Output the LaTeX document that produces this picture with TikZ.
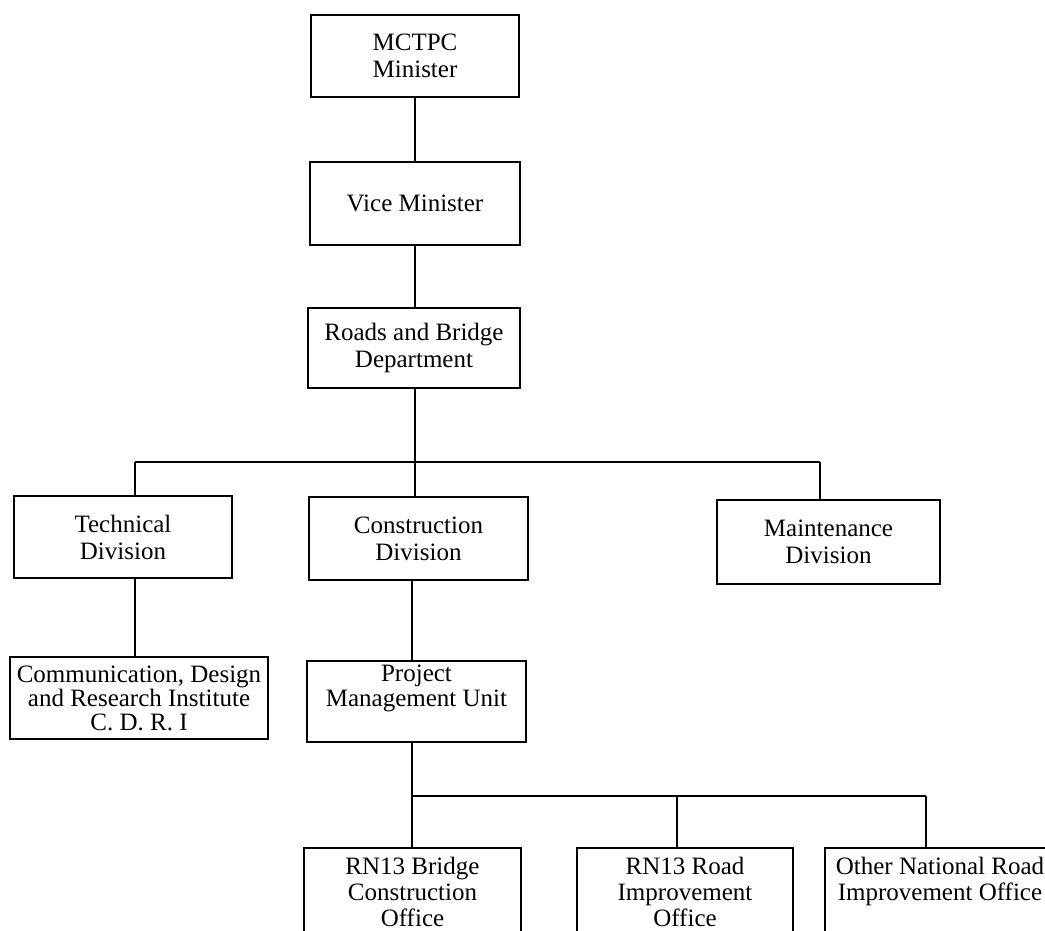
\documentclass[tikz,border=0pt]{standalone}
\usepackage{fontspec}
\setmainfont{Liberation Serif}
\begin{document}
\begin{tikzpicture}[x=1pt,y=-1pt,
  box/.style={draw, line width=1.6pt, inner sep=0pt, align=center,
    font=\fontsize{25}{27}\selectfont},
  office/.style={box, minimum height=88pt, text depth=0pt, font=\fontsize{25}{26}\selectfont},
  conn/.style={line width=1.6pt}]
\useasboundingbox (0,0) rectangle (1045,930);
% top chain
\node[box, minimum width=208pt, minimum height=82pt] (m) at (415,56) {MCTPC\\Minister};
\node[box, minimum width=210pt, minimum height=83pt] (v) at (415,203.5) {Vice Minister};
\node[box, minimum width=212pt, minimum height=80pt] (r) at (414,348) {Roads and Bridge\\Department};
% divisions
\node[box, minimum width=218pt, minimum height=82pt] (t) at (123,537) {Technical\\Division};
\node[box, minimum width=219pt, minimum height=83pt] (c) at (418.5,538.5) {Construction\\Division};
\node[box, minimum width=223pt, minimum height=84pt] (mt) at (828.5,542) {Maintenance\\Division};
% second level
\node[box, minimum width=258pt, minimum height=82pt, font=\fontsize{25}{24}\selectfont] (cd) at (139,698) {Communication, Design\\and Research Institute\\C. D. R. I};
\node[box, minimum width=219pt, minimum height=81pt, font=\fontsize{25}{25}\selectfont] (p) at (416.5,701.5) {Project\\Management Unit\\\strut};
% offices
\node[office, minimum width=217pt] (b1) at (412.5,892) {RN13 Bridge\\Construction\\Office};
\node[office, minimum width=216pt] (b2) at (685,892) {RN13 Road\\Improvement\\Office};
\node[office, minimum width=230pt] (b3) at (940,892) {Other National Road\\Improvement Office\\\phantom{Office}};
% junction points
\coordinate (j1) at (415,462);
\coordinate (jl) at (135,462);
\coordinate (jr) at (820,462);
\coordinate (j2) at (412,796);
\coordinate (j2m) at (677,796);
\coordinate (j2r) at (926,796);
% connectors
\draw[conn] (m.south) -- (v.north);
\draw[conn] (v.south) -- (v.south |- r.north);
\draw[conn] (j1 |- r.south) -- (j1 |- c.north);
\draw[conn] (jl) -- (jr);
\draw[conn] (jl) -- (jl |- t.north);
\draw[conn] (jr) -- (jr |- mt.north);
\draw[conn] (jl |- t.south) -- (jl |- cd.north);
\draw[conn] (j2 |- c.south) -- (j2 |- p.north);
\draw[conn] (j2 |- p.south) -- (j2);
\draw[conn] (j2) -- (j2r);
\draw[conn] (j2) -- (j2 |- b1.north);
\draw[conn] (j2m) -- (j2m |- b2.north);
\draw[conn] (j2r) -- (j2r |- b3.north);
\end{tikzpicture}
\end{document}
